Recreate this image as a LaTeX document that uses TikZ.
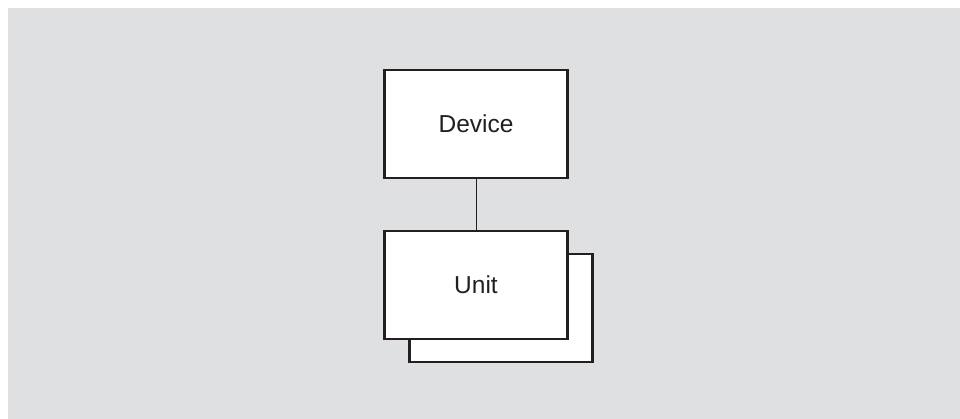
\documentclass[tikz,border=0pt]{standalone}
\usepackage{fontspec}
\setmainfont{Liberation Sans}
\usepackage{tikz}
\usetikzlibrary{positioning}
\definecolor{panel}{RGB}{223,224,226}
\definecolor{ink}{RGB}{35,31,32}

\begin{document}
\begin{tikzpicture}[x=1pt,y=1pt,node distance=51pt,semithick]
  \tikzstyle{block}=[draw=ink,line width=2.2pt,fill=white,text=ink,
                     minimum width=183pt,minimum height=108pt,inner sep=0pt,
                     font=\fontsize{24.5}{29}\selectfont]

  \useasboundingbox (0,0) rectangle (960,419);
  \fill[panel] (8,0) rectangle (960,411);

  \node[block] (device) at (476,295) {Device};
  \node[block] (unitback) [below=of device,xshift=25pt,yshift=-23pt] {};
  \node[block] (unit) [below=of device] {Unit};

  \path[draw=ink,line width=1pt] (device) -- (unit);
\end{tikzpicture}
\end{document}
